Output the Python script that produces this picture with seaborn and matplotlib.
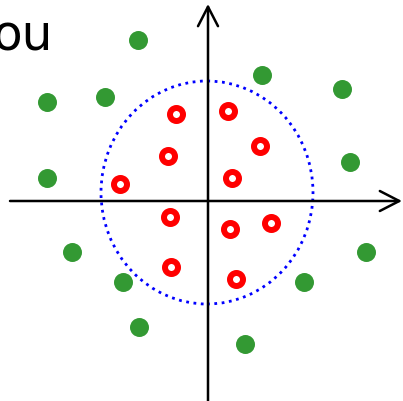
import matplotlib
matplotlib.use("Agg")
import matplotlib.pyplot as plt
import seaborn as sns
import pandas as pd
from matplotlib.patches import Ellipse

# Data (units: arbitrary, origin at axes crossing)
green_x = [-0.70, -1.61, -1.03, -1.61, 0.54, 1.34, 1.42, -1.36, -0.85, -0.69, 1.58, 0.96, 0.37]
green_y = [1.61, 0.99, 1.04, 0.23, 1.26, 1.12, 0.39, -0.51, -0.81, -1.26, -0.51, -0.81, -1.43]
red_x = [-0.32, -0.40, -0.88, 0.20, 0.52, 0.24, -0.38, -0.37, 0.22, 0.63, 0.28]
red_y = [0.87, 0.45, 0.17, 0.90, 0.55, 0.23, -0.16, -0.66, -0.28, -0.22, -0.78]
circle_center = (-0.01, 0.085)
circle_size = (2.12, 2.23)
label_text = "ou"

sns.set_style("white")
fig = plt.figure(figsize=(4.03, 4.01), dpi=100)
ax = fig.add_axes([0, 0, 1, 1])

# axes arrows
arrow_kw = dict(arrowstyle="->,head_length=0.7,head_width=0.36", lw=1.8,
                color="black", mutation_scale=20, shrinkA=0, shrinkB=0)
ax.annotate("", xy=(1.94, 0), xytext=(-1.98, 0), arrowprops=arrow_kw)
ax.annotate("", xy=(0, 1.97), xytext=(0, -2.05), arrowprops=arrow_kw)

# dotted circle
ax.add_patch(Ellipse(circle_center, circle_size[0], circle_size[1], fill=False,
                     edgecolor="blue", linestyle=":", lw=2.0, zorder=2))

green_df = pd.DataFrame({"x": green_x, "y": green_y})
red_df = pd.DataFrame({"x": red_x, "y": red_y})
sns.scatterplot(data=green_df, x="x", y="y", ax=ax, s=187, color="#339933",
                linewidth=0, zorder=3)
sns.scatterplot(data=red_df, x="x", y="y", ax=ax, s=88, facecolor="white",
                edgecolor="red", linewidth=4.3, zorder=3)
ax.set_xlim(-2.08, 1.95)
ax.set_ylim(-2.00, 2.01)
ax.axis("off")

fig.text(-8 / 403, 1 - 49 / 401, label_text, fontsize=35, va="baseline",
         ha="left", color="black", family="DejaVu Sans")

fig.savefig("out.png", dpi=100)
